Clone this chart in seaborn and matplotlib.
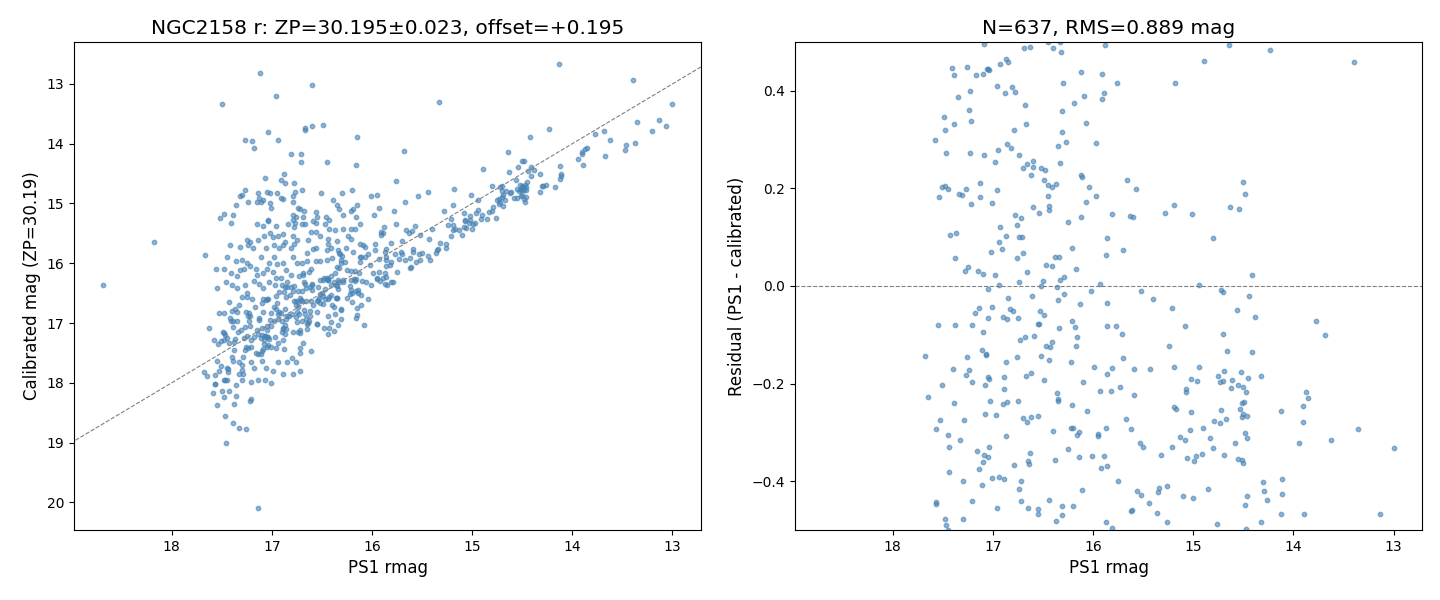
import numpy as np
import pandas as pd
import seaborn as sns
import matplotlib
matplotlib.use("Agg")
from matplotlib import pyplot as plt

# stars: (PS1 rmag, PS1 - calibrated)
band_pts = [
    (17.09, 0.495), (16.69, 0.487), (16.63, 0.489), (16.45, 0.499), (16.40, 0.487), (16.33, 0.499),
    (16.32, 0.480), (15.88, 0.494), (16.87, 0.466), (16.85, 0.458), (16.93, 0.454), (17.41, 0.446),
    (17.26, 0.448), (17.06, 0.445), (17.05, 0.445), (17.04, 0.443), (17.10, 0.434), (17.17, 0.432),
    (17.39, 0.432), (16.12, 0.438), (15.91, 0.434), (16.96, 0.410), (16.81, 0.407), (16.88, 0.395),
    (16.78, 0.397), (17.23, 0.399), (16.30, 0.415), (17.35, 0.387), (16.09, 0.389), (15.89, 0.395),
    (15.91, 0.384), (16.19, 0.374), (16.68, 0.370), (17.24, 0.360), (16.31, 0.358), (17.49, 0.346),
    (17.22, 0.339), (17.39, 0.331), (16.67, 0.331), (16.07, 0.334), (17.48, 0.319), (16.79, 0.319),
    (16.31, 0.315), (17.58, 0.300), (16.27, 0.296), (15.97, 0.292), (16.86, 0.290), (16.82, 0.282),
    (16.95, 0.278), (16.35, 0.286), (17.47, 0.272), (17.23, 0.272), (17.09, 0.268), (16.74, 0.268),
    (16.98, 0.255), (16.60, 0.257), (16.66, 0.251), (16.33, 0.253), (16.70, 0.241), (16.60, 0.243),
    (16.52, 0.241), (16.48, 0.237), (16.62, 0.227), (16.12, 0.227), (16.11, 0.223), (16.49, 0.218),
    (16.45, 0.206), (16.41, 0.202), (16.37, 0.208), (17.51, 0.202), (17.48, 0.204), (17.45, 0.198),
    (17.27, 0.198), (17.13, 0.212), (16.96, 0.196), (16.04, 0.202), (17.34, 0.188), (17.31, 0.186),
    (17.54, 0.182), (17.13, 0.182), (16.45, 0.184), (15.97, 0.184), (17.22, 0.167), (17.01, 0.171),
    (16.60, 0.161), (16.44, 0.163), (16.44, 0.155), (16.07, 0.173), (16.54, 0.149), (16.78, 0.145),
    (16.72, 0.139), (16.12, 0.141), (16.25, 0.132), (16.76, 0.124), (16.93, 0.120), (17.43, 0.104),
    (17.37, 0.108), (16.87, 0.102), (16.74, 0.100), (16.71, 0.100), (16.94, 0.091), (16.91, 0.075),
    (16.21, 0.077), (17.02, 0.069), (16.70, 0.067), (17.38, 0.057), (16.76, 0.057), (16.38, 0.059),
    (16.34, 0.059), (16.47, 0.042), (16.41, 0.040), (16.17, 0.034), (17.25, 0.038), (17.28, 0.030),
    (17.15, 0.030), (17.10, 0.024), (16.98, 0.022), (16.66, 0.028), (16.29, 0.018),
    (14.64, 0.493), (14.23, 0.483), (14.89, 0.462), (13.39, 0.458), (15.76, 0.415), (15.18, 0.415),
    (15.66, 0.218), (15.57, 0.198), (14.50, 0.214), (14.48, 0.188), (15.19, 0.165), (14.63, 0.161),
    (14.54, 0.157), (15.81, 0.147), (15.63, 0.143), (15.60, 0.141), (15.28, 0.149), (15.01, 0.147),
    (15.86, 0.098), (14.80, 0.098), (15.70, 0.073), (15.87, 0.063), (14.41, 0.022),
    (17.05, -0.007), (16.94, 0.002), (16.74, 0.008), (16.52, -0.001), (16.50, 0.010), (16.33, 0.012),
    (16.36, -0.003), (15.93, 0.005), (16.61, -0.021), (16.85, -0.025), (16.29, -0.017), (16.35, -0.029),
    (16.02, -0.011), (16.13, -0.036), (17.14, -0.046), (17.18, -0.056), (17.01, -0.044), (16.83, -0.048),
    (16.80, -0.052), (16.53, -0.052), (16.49, -0.060), (16.90, -0.064), (16.86, -0.068), (16.75, -0.066),
    (17.05, -0.066), (17.55, -0.079), (17.38, -0.079), (17.21, -0.079), (16.55, -0.077), (16.54, -0.077),
    (16.21, -0.072), (16.18, -0.085), (16.34, -0.087), (17.10, -0.095), (16.16, -0.105), (16.17, -0.122),
    (16.73, -0.111), (16.68, -0.105), (16.59, -0.103), (16.47, -0.122), (16.41, -0.115), (16.43, -0.126),
    (17.11, -0.132), (17.07, -0.140), (17.07, -0.142), (17.68, -0.144), (17.26, -0.146), (16.76, -0.146),
    (16.52, -0.144), (16.44, -0.152), (16.87, -0.156), (16.22, -0.156), (15.99, -0.165), (17.40, -0.171),
    (17.24, -0.173), (17.27, -0.183), (17.05, -0.187), (17.04, -0.191), (16.89, -0.187), (16.67, -0.185),
    (16.62, -0.179), (16.49, -0.193), (17.51, -0.202), (17.21, -0.197), (17.08, -0.202), (16.10, -0.197),
    (15.93, -0.216), (16.89, -0.212), (17.65, -0.228), (16.36, -0.220), (16.35, -0.232), (16.35, -0.236),
    (17.39, -0.240), (17.03, -0.236), (16.90, -0.242), (16.86, -0.238), (16.75, -0.236), (16.21, -0.244),
    (16.06, -0.257), (17.08, -0.263), (16.97, -0.265), (16.70, -0.271), (16.62, -0.269), (16.55, -0.267),
    (16.66, -0.279), (17.53, -0.275), (17.29, -0.275), (17.57, -0.294), (17.45, -0.306), (17.33, -0.316),
    (17.44, -0.329), (16.87, -0.308), (16.40, -0.298), (16.22, -0.292), (16.20, -0.290), (16.14, -0.300),
    (16.16, -0.306), (15.95, -0.304), (15.95, -0.308), (17.04, -0.329), (17.16, -0.339), (17.09, -0.347),
    (17.05, -0.351), (17.10, -0.361), (16.63, -0.343), (16.65, -0.359), (16.64, -0.365), (16.38, -0.357),
    (16.25, -0.335), (16.14, -0.351), (16.01, -0.349), (15.89, -0.349), (15.92, -0.372), (16.79, -0.367),
    (17.14, -0.376), (17.44, -0.382), (17.30, -0.400), (17.11, -0.408), (17.01, -0.394), (16.94, -0.392),
    (16.89, -0.396), (16.72, -0.400), (16.74, -0.417), (16.11, -0.419), (17.57, -0.443), (17.57, -0.447),
    (17.21, -0.441), (16.72, -0.441), (16.44, -0.439), (16.96, -0.454), (16.65, -0.454), (16.55, -0.458),
    (16.55, -0.468), (16.31, -0.450), (16.20, -0.450), (16.31, -0.470), (16.37, -0.482), (17.48, -0.478),
    (17.47, -0.490), (17.30, -0.478),
    (14.94, 0.003), (15.52, -0.011), (14.72, -0.009), (14.70, -0.013), (14.44, -0.021), (15.40, -0.027),
    (15.86, -0.034), (15.21, -0.046), (14.56, -0.050), (14.38, -0.064), (13.77, -0.072), (13.68, -0.101),
    (15.86, -0.081), (15.77, -0.081), (15.71, -0.099), (15.08, -0.083), (14.70, -0.099), (15.24, -0.122),
    (14.66, -0.134), (14.41, -0.136), (15.70, -0.148), (15.81, -0.169), (15.86, -0.181), (15.59, -0.171),
    (15.43, -0.171), (15.19, -0.167), (14.94, -0.165), (15.02, -0.191), (14.96, -0.195), (14.75, -0.185),
    (14.69, -0.175), (14.73, -0.197), (14.70, -0.195), (14.61, -0.193), (14.52, -0.177), (14.45, -0.189),
    (14.32, -0.185), (14.62, -0.210), (14.55, -0.202), (14.50, -0.206), (14.47, -0.218), (15.82, -0.216),
    (15.73, -0.206), (15.59, -0.224), (15.07, -0.212), (15.07, -0.218), (13.87, -0.218), (13.85, -0.230),
    (13.90, -0.245), (14.51, -0.240), (14.49, -0.238), (14.53, -0.253), (15.19, -0.247), (15.17, -0.253),
    (15.02, -0.259), (14.72, -0.255), (14.12, -0.257), (14.50, -0.263), (14.46, -0.267), (14.51, -0.269),
    (14.79, -0.277), (14.73, -0.281), (14.67, -0.273), (13.90, -0.279), (15.67, -0.273), (15.62, -0.294),
    (15.87, -0.292), (15.03, -0.296), (14.90, -0.290), (15.13, -0.310), (15.08, -0.316), (14.83, -0.312),
    (14.58, -0.322), (14.48, -0.302), (14.46, -0.312), (13.35, -0.294), (13.62, -0.316), (13.94, -0.322),
    (13.00, -0.333), (15.53, -0.322), (15.50, -0.329), (15.21, -0.329), (15.32, -0.347), (14.80, -0.333),
    (15.06, -0.353), (14.99, -0.359), (14.97, -0.349), (14.91, -0.345), (14.69, -0.347), (14.55, -0.355),
    (14.51, -0.357), (14.50, -0.363), (15.86, -0.368), (15.75, -0.400), (15.56, -0.421), (15.52, -0.429),
    (15.34, -0.413), (15.35, -0.423), (15.26, -0.410), (15.44, -0.445), (15.10, -0.431), (15.00, -0.435),
    (14.85, -0.417), (14.46, -0.431), (14.48, -0.449), (14.30, -0.402), (14.29, -0.421), (14.26, -0.439),
    (14.11, -0.396), (14.11, -0.427), (15.62, -0.462), (15.61, -0.460), (15.36, -0.466), (15.26, -0.484),
    (14.12, -0.468), (13.89, -0.468), (13.13, -0.468), (14.32, -0.484), (14.76, -0.488), (15.87, -0.484),
    (15.81, -0.496), (14.47, -0.499),
]

# stars only on the left panel (|residual| > 0.5): (PS1 rmag, calibrated mag)
wide_pts = [
    (17.12, 12.81), (16.60, 13.01), (16.96, 13.21), (17.50, 13.34), (16.67, 13.73), (16.67, 13.77),
    (16.60, 13.71), (17.04, 13.81), (17.27, 13.94), (17.20, 13.96), (16.94, 13.94), (17.18, 14.08),
    (16.81, 14.18), (16.71, 14.18), (16.71, 14.31), (17.07, 14.58), (16.88, 14.51), (16.91, 14.61),
    (16.87, 14.66), (16.78, 14.65), (16.70, 14.77), (16.77, 14.80), (16.79, 14.87), (16.79, 14.98),
    (16.95, 14.83), (16.91, 14.90), (16.89, 14.92), (17.05, 14.80), (17.02, 14.82), (17.14, 14.83),
    (17.13, 14.90), (17.15, 14.97), (17.09, 14.95), (17.11, 14.98), (17.02, 15.00), (17.01, 15.07),
    (17.27, 14.78), (17.30, 14.85), (17.32, 14.87), (17.36, 15.02), (17.24, 14.98), (17.48, 15.17),
    (17.52, 15.25), (17.39, 15.20), (17.41, 15.33), (17.15, 15.35), (17.09, 15.38), (17.04, 15.27),
    (17.04, 15.29), (16.96, 15.38), (16.84, 15.35), (16.79, 15.20), (16.79, 15.27), (16.76, 15.23),
    (16.74, 15.08), (16.72, 15.10), (16.68, 15.13), (16.69, 15.23), (16.77, 15.32), (16.70, 15.35),
    (16.67, 15.35), (16.59, 15.30), (16.78, 15.40),
    (15.33, 13.31), (16.49, 13.69), (16.15, 13.88), (15.68, 14.13), (16.45, 14.31), (16.16, 14.36),
    (14.42, 13.88), (15.76, 14.63), (16.51, 14.83), (16.30, 14.82), (16.20, 14.77), (16.01, 14.87),
    (15.95, 14.85), (16.39, 14.95), (16.35, 15.03), (16.33, 15.10), (16.15, 15.03), (16.21, 15.12),
    (16.19, 15.10), (16.29, 15.20), (16.16, 15.23), (16.12, 15.35), (15.98, 15.20), (15.93, 15.08),
    (15.78, 15.13), (15.67, 14.97), (15.54, 14.88), (15.44, 14.80), (16.56, 15.15), (16.55, 15.23),
    (16.56, 15.32), (16.47, 15.35), (16.43, 15.27), (16.46, 15.23), (16.29, 15.42), (16.21, 15.42),
    (16.17, 15.42), (16.43, 15.42),
    (18.18, 15.65), (18.69, 16.37), (17.67, 15.87), (17.25, 15.61), (17.22, 15.65), (17.14, 15.61),
    (17.08, 15.54), (17.02, 15.49), (16.99, 15.56), (16.94, 15.54), (16.89, 15.51), (16.87, 15.64),
    (16.79, 15.54), (16.75, 15.61), (16.64, 15.61), (16.61, 15.48), (17.42, 15.70), (17.32, 15.72),
    (17.24, 15.69), (17.19, 15.75), (17.06, 15.75), (16.98, 15.70), (16.93, 15.75), (16.89, 15.70),
    (16.81, 15.74), (16.78, 15.68), (16.65, 15.82), (16.59, 15.76), (17.45, 15.90), (17.36, 15.97),
    (17.30, 15.95), (17.25, 16.00), (17.11, 15.89), (17.03, 15.99), (16.98, 15.90), (16.95, 16.02),
    (16.89, 15.99), (16.79, 15.89), (16.75, 16.00), (16.70, 16.00), (16.65, 15.97), (16.61, 16.10),
    (17.56, 16.10), (17.48, 16.09), (17.41, 16.17), (17.35, 16.22), (17.32, 16.12), (17.28, 16.10),
    (17.22, 16.05), (17.16, 16.10), (17.15, 16.19), (17.09, 16.17), (17.05, 16.09), (16.99, 16.14),
    (16.96, 16.24), (16.91, 16.24), (16.86, 16.12), (16.81, 16.20), (16.73, 16.22), (16.69, 16.17),
    (17.55, 16.42), (17.46, 16.32), (17.40, 16.37), (17.35, 16.42), (17.27, 16.37), (17.25, 16.49),
    (17.18, 16.29), (17.13, 16.34), (17.09, 16.42), (17.03, 16.32), (16.97, 16.36), (16.90, 16.37),
    (16.85, 16.31), (17.43, 16.64), (17.40, 16.79), (17.37, 16.76), (17.35, 16.82), (17.33, 16.69),
    (17.30, 16.57), (17.25, 16.56), (17.20, 16.59), (17.53, 16.84), (17.48, 16.84), (17.42, 16.91),
    (17.63, 17.09), (16.69, 17.33), (16.61, 17.47), (16.72, 17.41), (16.72, 17.50), (16.80, 17.58),
    (16.76, 17.65), (16.88, 17.44), (16.85, 17.65), (16.94, 17.65), (17.10, 17.63), (17.33, 17.85),
    (17.29, 17.86), (17.18, 17.75), (17.06, 17.76), (16.99, 17.80), (16.89, 17.86), (16.79, 17.86),
    (16.72, 17.81), (17.45, 17.95), (17.36, 18.03), (17.30, 17.95), (17.21, 17.98), (17.14, 17.96),
    (17.07, 17.95), (17.01, 18.00), (17.59, 18.17), (17.50, 18.13), (17.43, 18.13), (17.36, 18.22),
    (17.21, 18.27), (17.48, 18.23),
    (16.56, 15.47), (16.52, 15.55), (16.44, 15.59), (16.37, 15.45), (16.56, 15.74), (16.45, 15.77),
    (16.44, 15.67), (16.41, 15.74), (16.35, 15.62), (16.34, 15.77), (16.26, 15.74), (16.24, 15.55),
    (16.21, 15.59), (16.56, 15.97), (16.52, 15.97), (16.48, 17.09), (16.43, 17.08), (16.44, 17.18),
    (16.38, 17.14), (16.34, 17.03), (16.41, 16.98), (16.31, 16.93), (16.16, 16.92), (16.15, 16.86),
    (16.08, 17.03), (16.15, 16.74), (16.11, 16.69), (16.04, 16.59), (15.85, 16.37), (15.79, 16.32),
    (15.42, 15.95),
    (14.13, 12.67), (13.06, 13.71), (13.20, 13.79), (13.46, 14.03), (13.47, 14.11), (13.37, 13.99),
    (13.67, 14.21), (14.17, 14.73),
    (17.55, 18.37), (17.38, 18.35), (17.22, 18.30), (17.47, 18.55), (17.39, 18.67), (17.33, 18.75),
    (17.26, 18.77), (17.46, 19.00), (17.14, 20.09),
]

band = np.array(band_pts)
wide = np.array(wide_pts)
df = pd.DataFrame({
    "ps1": np.concatenate([band[:, 0], wide[:, 0]]),
    "cal": np.concatenate([band[:, 0] - band[:, 1], wide[:, 1]]),
})
df["resid"] = df["ps1"] - df["cal"]

fig, (ax1, ax2) = plt.subplots(1, 2, figsize=(14.4, 6))
kw = dict(s=10, color="steelblue", edgecolor="steelblue", linewidth=1.0, alpha=0.6, legend=False)

sns.scatterplot(data=df, x="ps1", y="cal", ax=ax1, **kw)
ax1.invert_xaxis()
ax1.invert_yaxis()
ax1.axline((15, 15), slope=1, color="gray", ls="--", lw=0.8)
ax1.set_xlabel("PS1 rmag", fontsize=12)
ax1.set_ylabel("Calibrated mag (ZP=30.19)", fontsize=12)
ax1.set_title("NGC2158 r: ZP=30.195±0.023, offset=+0.195", fontsize=14.5)

sns.scatterplot(data=df, x="ps1", y="resid", ax=ax2, **kw)
ax2.invert_xaxis()
ax2.axhline(0, color="gray", ls="--", lw=0.8)
ax2.set_ylim(-0.5, 0.5)
ax2.set_xlabel("PS1 rmag", fontsize=12)
ax2.set_ylabel("Residual (PS1 - calibrated)", fontsize=12)
ax2.set_title("N=637, RMS=0.889 mag", fontsize=14.5)

plt.subplots_adjust(left=0.0514, right=0.9875, bottom=0.1167, top=0.93, wspace=0.15)
plt.savefig("out.png", dpi=100)
